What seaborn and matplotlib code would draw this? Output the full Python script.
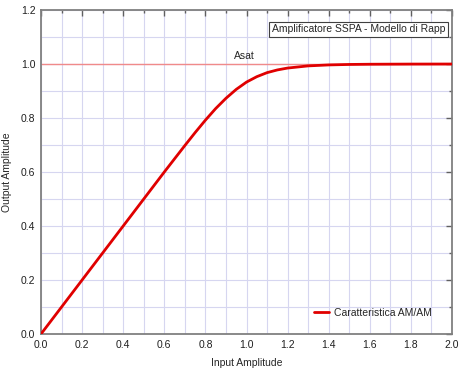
import matplotlib
matplotlib.use("Agg")
import matplotlib.pyplot as plt
import seaborn as sns
import pandas as pd
from matplotlib.ticker import MultipleLocator

# Dati (caratteristica AM/AM, modello di Rapp)
input_amp = [0.0, 0.1, 0.2, 0.3, 0.4, 0.5, 0.6, 0.65, 0.7, 0.75, 0.8, 0.85,
             0.9, 0.95, 1.0, 1.05, 1.1, 1.15, 1.2, 1.3, 1.4, 1.5, 1.6, 1.8, 2.0]
output_amp = [0.0, 0.1, 0.2, 0.3, 0.4, 0.5, 0.6, 0.649, 0.698, 0.746, 0.792, 0.835,
              0.873, 0.906, 0.933, 0.953, 0.968, 0.978, 0.985, 0.993, 0.9966, 0.9983,
              0.9991, 0.9997, 0.9999]
asat = 1.0

df = pd.DataFrame({"Input Amplitude": input_amp, "Output Amplitude": output_amp})

sns.set_style("white")
plt.rcParams["font.family"] = ["Liberation Sans", "DejaVu Sans"]
plt.rcParams["font.size"] = 7.5

fig = plt.figure(figsize=(4.74, 3.69), dpi=100)
ax = fig.add_axes([41 / 474, 1 - 334 / 369, 411 / 474, 324 / 369])

grid_col = "#d6d6f0"
ax.xaxis.set_major_locator(MultipleLocator(0.2))
ax.xaxis.set_minor_locator(MultipleLocator(0.1))
ax.yaxis.set_major_locator(MultipleLocator(0.2))
ax.yaxis.set_minor_locator(MultipleLocator(0.1))
ax.grid(True, which="both", color=grid_col, linewidth=0.8)
ax.set_axisbelow(True)

ax.axhline(asat, color="#f08a8a", linewidth=1.0, zorder=2)
sns.lineplot(data=df, x="Input Amplitude", y="Output Amplitude", ax=ax,
             color="#e00000", linewidth=2.0, label="Caratteristica AM/AM", zorder=3)

ax.set_xlim(0, 2.0)
ax.set_ylim(0, 1.2)
ax.xaxis.set_major_formatter(matplotlib.ticker.FormatStrFormatter("%.1f"))
ax.yaxis.set_major_formatter(matplotlib.ticker.FormatStrFormatter("%.1f"))

for s in ax.spines.values():
    s.set_color("#808080")
    s.set_linewidth(1.3)
ax.tick_params(which="both", direction="in", top=True, right=True, color="#606060",
               labelsize=7.5, colors="#202020")
ax.tick_params(which="major", length=4, width=1, pad=4)
ax.tick_params(which="minor", length=2.5, width=1)

ax.set_xlabel("Input Amplitude", fontsize=7.5, labelpad=6)
ax.set_ylabel("Output Amplitude", fontsize=7.5, labelpad=6)

ax.text(0.99, 1.01, "Asat", ha="center", va="bottom", fontsize=7.5)
ax.text(1.968, 1.128, "Amplificatore SSPA - Modello di Rapp", ha="right", va="center",
        fontsize=7.5, bbox=dict(boxstyle="square,pad=0.25", facecolor="white",
                                edgecolor="#404040", linewidth=0.8))

ax.legend(loc="lower right", frameon=False, fontsize=7.5, handlelength=1.5,
          handletextpad=0.5, bbox_to_anchor=(0.975, 0.02))

fig.savefig("out.png", dpi=100)
